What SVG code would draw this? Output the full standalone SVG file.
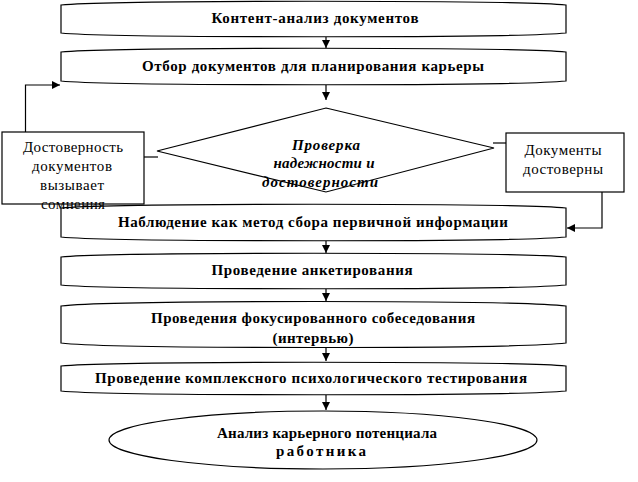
<svg xmlns="http://www.w3.org/2000/svg" width="638" height="482" viewBox="0 0 638 482">
<style>
.shape{fill:#fff;stroke:#000;stroke-width:1.2}
.conn{fill:none;stroke:#000;stroke-width:1.2}
text{font-family:"Liberation Serif","Times New Roman","DejaVu Serif",serif;text-anchor:middle;fill:#000}
.t{font-size:15px;font-weight:bold}
.ti{font-size:15px;font-weight:bold;font-style:italic}
.tr{font-size:15px}
</style>
<defs>
<marker id="ah" markerUnits="userSpaceOnUse" markerWidth="9" markerHeight="9" refX="8" refY="4" orient="auto">
<path d="M0,0 L8,4 L0,8 Z" fill="#000"/>
</marker>
</defs>
<g id="n1">
<path class="shape" d="M61,5 C110,0 517,0 566,5 L566,33 C517,38 110,38 61,33 Z"/>
<text class="t" x="315" y="23" textLength="207">Контент-анализ документов</text>
</g>
<g id="n2">
<path class="shape" d="M61,52 C110,47 517,47 566,52 L566,81 C517,86 110,86 61,81 Z"/>
<text class="t" x="313" y="71" textLength="342">Отбор документов для планирования карьеры</text>
</g>
<g id="n3">
<path class="shape" d="M326,108 L494,148 L326,192 L157,151 Z"/>
<text class="ti" x="326" y="150" textLength="68">Проверка</text>
<text class="ti" x="324" y="168" textLength="101">надежности и</text>
<text class="ti" x="320" y="187" textLength="116">достоверности</text>
</g>
<g id="n5">
<path class="shape" d="M61,208 C110,203 517,203 566,208 L566,237 C517,242 110,242 61,237 Z"/>
<text class="t" x="313" y="227" textLength="390">Наблюдение как метод сбора первичной информации</text>
</g>
<g id="n4">
<rect class="shape" x="2" y="132" width="142" height="72"/>
<text class="tr" x="73" y="152" textLength="100">Достоверность</text>
<text class="tr" x="72" y="171" textLength="80">документов</text>
<text class="tr" x="72" y="190" textLength="64">вызывает</text>
<text class="tr" x="73" y="209" textLength="64">сомнения</text>
</g>
<g id="n6">
<rect class="shape" x="506" y="133" width="118" height="59"/>
<text class="tr" x="563" y="155" textLength="77">Документы</text>
<text class="tr" x="563" y="174" textLength="80">достоверны</text>
</g>
<g id="n7">
<path class="shape" d="M61,257 C110,252 517,252 566,257 L566,285 C517,290 110,290 61,285 Z"/>
<text class="t" x="312" y="275" textLength="201">Проведение анкетирования</text>
</g>
<g id="n8">
<path class="shape" d="M61,306 C110,300 517,300 566,306 L566,343 C517,349 110,349 61,343 Z"/>
<text class="t" x="313" y="323" textLength="324">Проведения фокусированного собеседования</text>
<text class="t" x="313" y="343" textLength="81">(интервью)</text>
</g>
<g id="n9">
<path class="shape" d="M61,366 C110,361 517,361 566,366 L566,391 C517,396 110,396 61,391 Z"/>
<text class="t" x="311" y="383" textLength="432">Проведение комплексного психологического тестирования</text>
</g>
<g id="n10">
<ellipse class="shape" cx="323" cy="440" rx="214" ry="29"/>
<text class="t" x="327" y="438" textLength="220">Анализ карьерного потенциала</text>
<text class="t" x="321" y="456" textLength="90">работника</text>
</g>
<g id="connectors">
<line class="conn" x1="326" y1="37" x2="326" y2="48" marker-end="url(#ah)"/>
<line class="conn" x1="326" y1="85" x2="326" y2="100" marker-end="url(#ah)"/>
<line class="conn" x1="326" y1="241" x2="326" y2="253" marker-end="url(#ah)"/>
<line class="conn" x1="326" y1="289" x2="326" y2="301" marker-end="url(#ah)"/>
<line class="conn" x1="326" y1="348" x2="326" y2="361" marker-end="url(#ah)"/>
<line class="conn" x1="326" y1="395" x2="326" y2="410" marker-end="url(#ah)"/>
<polyline class="conn" points="25.5,132 25.5,85 60,85" marker-end="url(#ah)"/>
<polyline class="conn" points="602,192 602,228 567,228" marker-end="url(#ah)"/>
<line class="conn" x1="144" y1="157" x2="158" y2="157"/>
<line class="conn" x1="493" y1="143" x2="506" y2="143"/>
</g>
</svg>
